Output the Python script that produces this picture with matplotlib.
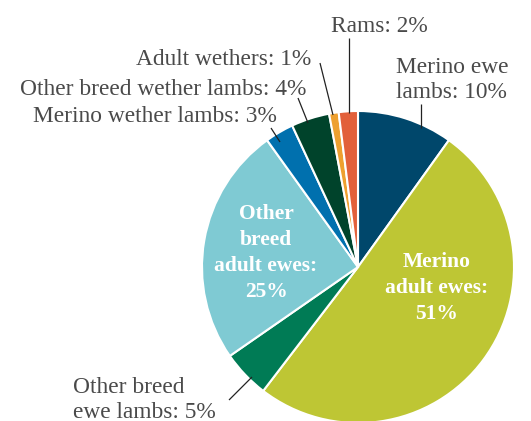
import matplotlib
matplotlib.use("Agg")
import matplotlib.pyplot as plt

# Sheep flock composition (% of head)
categories = ["Merino ewe lambs", "Merino adult ewes", "Other breed ewe lambs",
              "Other breed adult ewes", "Merino wether lambs",
              "Other breed wether lambs", "Adult wethers", "Rams"]
shares = [10, 51, 5, 25, 3, 4, 1, 2]
label_formats = ["Merino ewe\nlambs: {}%", "Merino\nadult ewes:\n{}%",
                 "Other breed\newe lambs: {}%", "Other\nbreed\nadult ewes:\n{}%",
                 "Merino wether lambs: {}%", "Other breed wether lambs: {}%",
                 "Adult wethers: {}%", "Rams: {}%"]
colors = ["#00476b", "#bec634", "#007b55", "#7fcad3",
          "#0070ae", "#00432b", "#eea02f", "#e2603a"]

# Layout in pixel units (y measured upwards from the bottom edge)
W, H = 531, 421
center = (358, 154)
radius = 156
FONT = ["Liberation Serif", "DejaVu Serif"]
TEXT_GREY = "#4a4a4a"

# label placement: (x, first baseline, ha, inside?) and leader (start, end)
placement = [
    dict(x=396, y=348, ha="left", inside=False, leader=((421, 317), (421, 293))),
    dict(x=437, y=267 * -1 + 421 + 0, ha="center", inside=True, leader=None),
    dict(x=73, y=28, ha="left", inside=False, leader=((229, 21), (252, 44))),
    dict(x=266, y=421 - 219, ha="center", inside=True, leader=None),
    dict(x=277, y=299, ha="right", inside=False, leader=((271, 293), (280, 279))),
    dict(x=306, y=326, ha="right", inside=False, leader=((298, 323), (308, 298))),
    dict(x=311, y=356, ha="right", inside=False, leader=((320, 358), (333, 306))),
    dict(x=379, y=389, ha="center", inside=False, leader=((349, 383), (349, 308))),
]

fig = plt.figure(figsize=(W / 100, H / 100), dpi=100)
ax = fig.add_axes([0, 0, 1, 1])
ax.set_xlim(0, W)
ax.set_ylim(0, H)
ax.set_aspect("equal")
ax.axis("off")

ax.pie(shares, colors=colors, startangle=90, counterclock=False,
       center=center, radius=radius, frame=True,
       wedgeprops=dict(edgecolor="white", linewidth=1.5))
ax.set_xlim(0, W)
ax.set_ylim(0, H)
ax.axis("off")

for fmt, share, p in zip(label_formats, shares, placement):
    lines = fmt.format(share).split("\n")
    if p["inside"]:
        size, weight, color, step = 15.5, "bold", "white", 26
    else:
        size, weight, color, step = 16.8, "normal", TEXT_GREY, 24.5
    for i, line in enumerate(lines):
        ax.text(p["x"], p["y"] - i * step, line, ha=p["ha"], va="baseline",
                fontsize=size, fontweight=weight, color=color, family=FONT)
    if p["leader"] is not None:
        (x0, y0), (x1, y1) = p["leader"]
        ax.plot([x0, x1], [y0, y1], color="#222222", lw=0.9,
                solid_capstyle="butt")

fig.savefig("out.png", dpi=100)
